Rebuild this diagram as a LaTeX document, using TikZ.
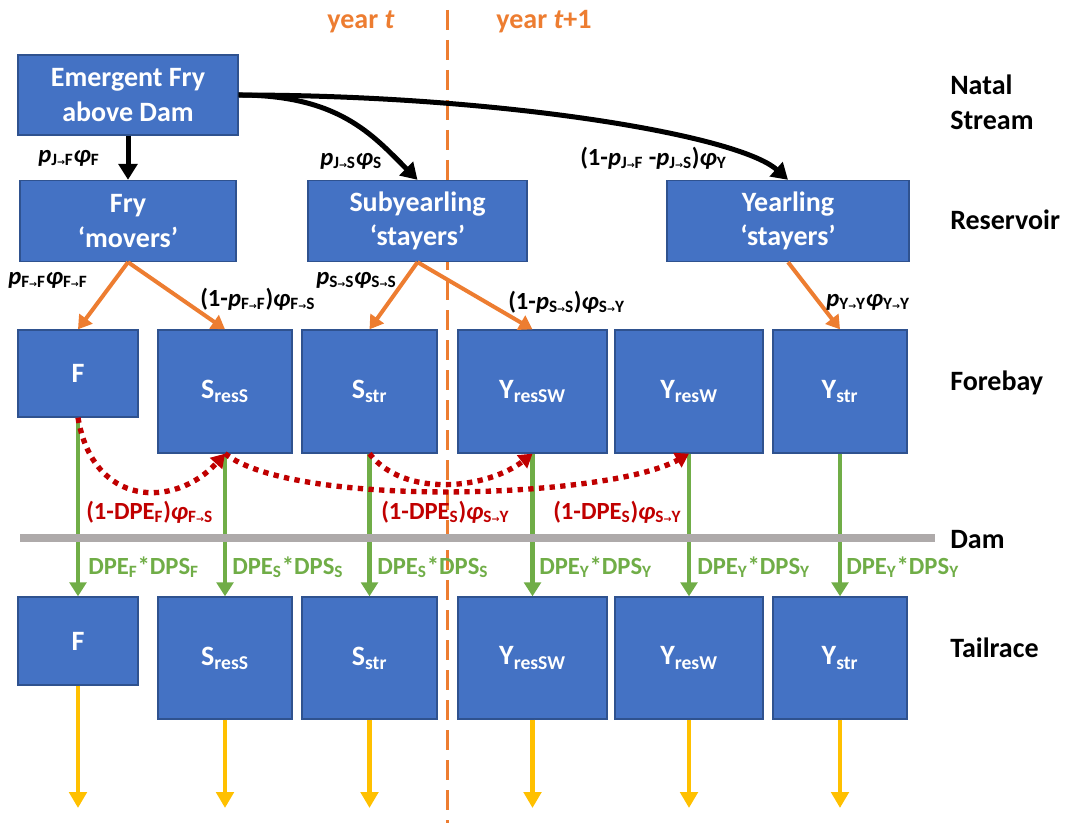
\documentclass[tikz,border=0pt]{standalone}
\usepackage{fontspec}
\setmainfont{Carlito}
\newfontfamily\arrowfont{DejaVu Sans}
\usepackage{graphicx}
\usetikzlibrary{arrows.meta}

\definecolor{boxblue}{RGB}{68,114,196}
\definecolor{boxline}{RGB}{47,82,143}
\definecolor{orng}{RGB}{237,125,49}
\definecolor{grn}{RGB}{112,173,71}
\definecolor{ylw}{RGB}{255,192,0}
\definecolor{dred}{RGB}{192,0,0}
\definecolor{damgray}{RGB}{174,170,170}

\newcommand{\sbs}[1]{\textsubscript{#1}}
\newcommand{\rarr}{{\arrowfont\scalebox{0.55}{→}}}
\newcommand{\bigtxt}{\fontsize{21}{26}\selectfont\bfseries}
\newcommand{\lbltxt}{\fontsize{18.5}{22}\selectfont\bfseries}

\begin{document}
\begin{tikzpicture}[x=0.75pt,y=0.75pt,yscale=-1,xscale=1,
  box/.style={draw=boxline,fill=boxblue,line width=1pt,text=white,font=\bigtxt,align=center,inner sep=0pt},
  side/.style={anchor=west,font=\bigtxt,align=left,inner sep=0pt},
  lbl/.style={anchor=west,font=\lbltxt,inner sep=0pt},
  blkarrow/.style={line width=3.75pt,-{Triangle[width=14pt,length=12pt]}},
  orgarrow/.style={orng,line width=3pt,-{Triangle[width=12pt,length=10pt]}},
  grnarrow/.style={grn,line width=3.2pt,-{Triangle[width=12.5pt,length=10.5pt]}},
  ylwarrow/.style={ylw,line width=3.5pt,-{Triangle[width=13pt,length=12pt]}},
  redarrow/.style={dred,line width=4pt,dash pattern=on 4pt off 4pt,-{Triangle[width=12pt,length=10pt]}}
]
\useasboundingbox (0,0) rectangle (1069,823);

%Straight Lines (year boundary)
\coordinate (yrtop) at (447,10);
\coordinate (yrbot) at (447,823);
\draw [orng,line width=2.25pt,dash pattern=on 15pt off 7.5pt] (yrtop) -- (yrbot);

% Text Node
\node [font=\bigtxt,text=orng,inner sep=0pt] (yrt) at (361,22) {year \textit{t}};
% Text Node
\node [font=\bigtxt,text=orng,inner sep=0pt] (yrt1) at (544,22) {year \textit{t}+1};

%Shape: Rectangle
\node [box,minimum width=165pt,minimum height=60pt] (emg) at (128,95) {Emergent Fry\\above Dam};
%Shape: Rectangle
\node [box,minimum width=162pt,minimum height=60.75pt] (fry) at (128,221) {Fry\\‘movers’};
%Shape: Rectangle
\node [box,minimum width=164.25pt,minimum height=60.75pt] (sub) at (417.5,221) {Subyearling\\‘stayers’};
%Shape: Rectangle
\node [box,minimum width=181.5pt,minimum height=60.75pt] (yrl) at (788,221) {Yearling\\‘stayers’};

%Shape: Rectangle (forebay)
\node [box,minimum width=90pt,minimum height=65.25pt] (F1) at (78,373.5) {F};
\node [box,minimum width=100.5pt,minimum height=92.25pt] (S1) at (225,391.5) {S\sbs{resS}};
\node [box,minimum width=101.25pt,minimum height=92.25pt] (T1) at (369.5,391.5) {S\sbs{str}};
\node [box,minimum width=111.75pt,minimum height=92.25pt] (YSW1) at (532.5,391.5) {Y\sbs{resSW}};
\node [box,minimum width=111pt,minimum height=92.25pt] (YW1) at (689,391.5) {Y\sbs{resW}};
\node [box,minimum width=100.5pt,minimum height=92.25pt] (YS1) at (840,391.5) {Y\sbs{str}};

%Shape: Rectangle (tailrace)
\node [box,minimum width=90pt,minimum height=66pt] (F2) at (78,641) {F};
\node [box,minimum width=100.5pt,minimum height=91.5pt] (S2) at (225,658) {S\sbs{resS}};
\node [box,minimum width=101.25pt,minimum height=91.5pt] (T2) at (369.5,658) {S\sbs{str}};
\node [box,minimum width=111.75pt,minimum height=91.5pt] (YSW2) at (532.5,658) {Y\sbs{resSW}};
\node [box,minimum width=111pt,minimum height=91.5pt] (YW2) at (689,658) {Y\sbs{resW}};
\node [box,minimum width=100.5pt,minimum height=91.5pt] (YS2) at (840,658) {Y\sbs{str}};

%Straight Lines
\draw [blkarrow] (emg.south) -- (fry.north);
%Curve Lines
\draw [blkarrow] (emg.east) .. controls +(100,0) and +(-45,-45) .. (sub.north);
%Curve Lines
\draw [blkarrow] (emg.east) .. controls +(260,0) and +(-50,-45) .. (yrl.north);

%Straight Lines
\draw [orgarrow] (fry.south) -- (F1.north);
\draw [orgarrow] (fry.south) -- (S1.north);
\draw [orgarrow] (sub.south) -- (T1.north);
\draw [orgarrow] (sub.south) -- (YSW1.north);
\draw [orgarrow] (yrl.south) -- (YS1.north);

%Straight Lines
\draw [grnarrow] (F1.south) -- (F2.north);
\draw [grnarrow] (S1.south) -- (S2.north);
\draw [grnarrow] (T1.south) -- (T2.north);
\draw [grnarrow] (YSW1.south) -- (YSW2.north);
\draw [grnarrow] (YW1.south) -- (YW2.north);
\draw [grnarrow] (YS1.south) -- (YS2.north);

%Curve Lines
\draw [redarrow] (F1.south) .. controls +(15,90) and +(-50,55) .. (S1.south);
\draw [redarrow] (S1.south) .. controls +(70,55) and +(-80,45) .. (YW1.south);
\draw [redarrow] (T1.south) .. controls +(35,45) and +(-45,35) .. (YSW1.south);

%Straight Lines (dam)
\coordinate (damL) at (20,538);
\coordinate (damR) at (935,538);
\draw [damgray,line width=6pt] (damL) -- (damR);

%Straight Lines
\coordinate (outlet) at (0,808);
\draw [ylwarrow] (F2.south) -- (F2.south |- outlet);
\draw [ylwarrow] (S2.south) -- (S2.south |- outlet);
\draw [ylwarrow] (T2.south) -- (T2.south |- outlet);
\draw [ylwarrow] (YSW2.south) -- (YSW2.south |- outlet);
\draw [ylwarrow] (YW2.south) -- (YW2.south |- outlet);
\draw [ylwarrow] (YS2.south) -- (YS2.south |- outlet);

% Text Node
\node [side] (natal) at (950,102) {Natal\\Stream};
% Text Node
\node [side] (resv) at (950,220) {Reservoir};
% Text Node
\node [side] (fore) at (950,383) {Forebay};
% Text Node
\node [side] (dam) at (950,540) {Dam};
% Text Node
\node [side] (tail) at (950,648) {Tailrace};

% Text Node
\node [lbl] (lJF) at (38,158) {\textit{p}\sbs{J\rarr F}\textit{φ}\sbs{F}};
% Text Node
\node [lbl] (lJS) at (320,161) {\textit{p}\sbs{J\rarr S}\textit{φ}\sbs{S}};
% Text Node
\node [lbl] (lJY) at (580,158) {(1-\textit{p}\sbs{J\rarr F} -\textit{p}\sbs{J\rarr S})\textit{φ}\sbs{Y}};
% Text Node
\node [lbl] (lFF) at (8,280) {\textit{p}\sbs{F\rarr F}\textit{φ}\sbs{F\rarr F}};
% Text Node
\node [lbl] (lFS) at (200,299) {(1-\textit{p}\sbs{F\rarr F})\textit{φ}\sbs{F\rarr S}};
% Text Node
\node [lbl] (lSS) at (316,280) {\textit{p}\sbs{S\rarr S}\textit{φ}\sbs{S\rarr S}};
% Text Node
\node [lbl] (lSY) at (508,302) {(1-\textit{p}\sbs{S\rarr S})\textit{φ}\sbs{S\rarr Y}};
% Text Node
\node [lbl] (lYY) at (826,302) {\textit{p}\sbs{Y\rarr Y}\textit{φ}\sbs{Y\rarr Y}};

% Text Node
\node [lbl,text=dred] (rFS) at (86,512) {(1-DPE\sbs{F})\textit{φ}\sbs{F\rarr S}};
% Text Node
\node [lbl,text=dred] (rSY) at (381,512) {(1-DPE\sbs{S})\textit{φ}\sbs{S\rarr Y}};
% Text Node
\node [lbl,text=dred] (rSYb) at (553,512) {(1-DPE\sbs{S})\textit{φ}\sbs{S\rarr Y}};

% Text Node
\node [lbl,text=grn] (gF) at (88,567) {DPE\sbs{F}*DPS\sbs{F}};
% Text Node
\node [lbl,text=grn] (gS) at (232,567) {DPE\sbs{S}*DPS\sbs{S}};
% Text Node
\node [lbl,text=grn] (gSb) at (377,567) {DPE\sbs{S}*DPS\sbs{S}};
% Text Node
\node [lbl,text=grn] (gY) at (539,567) {DPE\sbs{Y}*DPS\sbs{Y}};
% Text Node
\node [lbl,text=grn] (gYb) at (697,567) {DPE\sbs{Y}*DPS\sbs{Y}};
% Text Node
\node [lbl,text=grn] (gYc) at (846,567) {DPE\sbs{Y}*DPS\sbs{Y}};

\end{tikzpicture}
\end{document}
